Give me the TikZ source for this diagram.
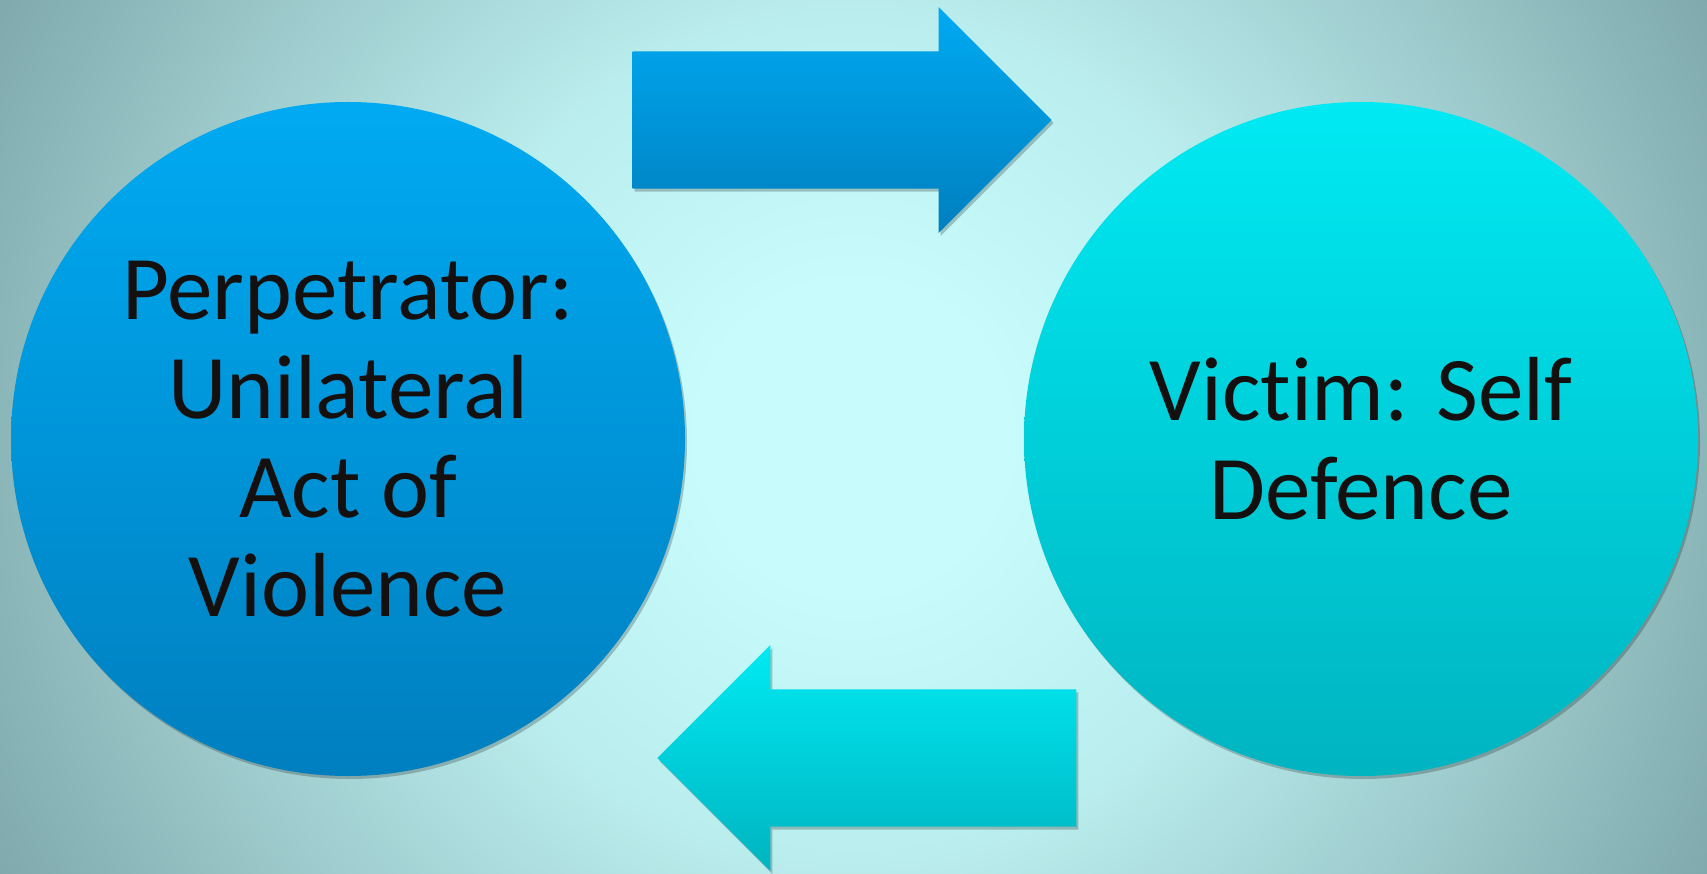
\documentclass[tikz,border=0pt]{standalone}
\usepackage{fontspec}
\setmainfont{Carlito}[Ligatures=NoCommon]
\usetikzlibrary{shapes.arrows,shadows}

\definecolor{bgin}{HTML}{C8FCFC}
\definecolor{bgmid}{HTML}{BAEDED}
\definecolor{bgfar}{HTML}{9AC6C8}
\definecolor{bgout}{HTML}{7FA9AC}
\definecolor{bluetop}{HTML}{00AAF2}
\definecolor{bluebot}{HTML}{007FBF}
\definecolor{cyantop}{HTML}{00EAF3}
\definecolor{cyanbot}{HTML}{00B4C0}
\definecolor{ink}{HTML}{151010}

% stops are halved: pgf fits the middle 50bp square to the path
\pgfdeclareradialshading{bgglow}{\pgfpoint{0bp}{0bp}}{%
  color(0bp)=(bgin); color(4bp)=(bgin); color(11bp)=(bgmid);
  color(19bp)=(bgfar); color(25bp)=(bgout); color(50bp)=(bgout)}

\tikzset{
  softshadow/.style={drop shadow={shadow xshift=2pt,shadow yshift=-3pt,fill=black,opacity=.22}},
  bubble/.style={circle, minimum size=674pt, inner sep=0pt, align=center,
    text=ink, font=\fontsize{91}{99}\selectfont, softshadow},
  blockarrow/.style={single arrow, inner xsep=0pt, inner ysep=68.5pt,
    minimum height=419pt, single arrow head extend=44.5pt,
    single arrow tip angle=90, softshadow},
}

\begin{document}
\begin{tikzpicture}[x=1pt,y=-1pt]
  \useasboundingbox (0,0) rectangle (1707,874);

  % background glow
  \begin{scope}
    \clip (0,0) rectangle (1707,874);
    \shade[shading=bgglow] (853.5,437) circle (960pt);
  \end{scope}

  % the two sides
  \node[bubble, top color=bluetop, bottom color=bluebot] (perp) at (348,439)
    {Perpetrator:\\Unilateral\\Act of\\Violence};
  \node[bubble, top color=cyantop, bottom color=cyanbot] (victim) at (1361,439)
    {Victim: Self\\Defence};

  % arrows between them
  \node[blockarrow, top color=bluetop, bottom color=bluebot, anchor=tip] (fwd) at (1052,120) {};
  \node[blockarrow, top color=cyantop, bottom color=cyanbot, shape border rotate=180, anchor=tip] (back) at (657,758) {};
\end{tikzpicture}
\end{document}
